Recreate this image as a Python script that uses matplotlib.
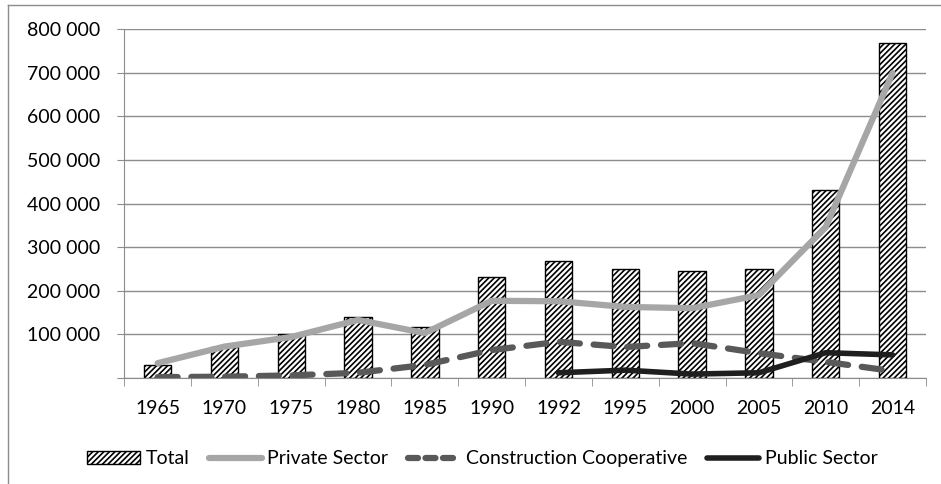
import numpy as np
import matplotlib.pyplot as plt
from matplotlib.ticker import FuncFormatter, FixedLocator
from matplotlib.lines import Line2D
from matplotlib.patches import Patch

years = ["1965", "1970", "1975", "1980", "1985", "1990", "1992", "1995", "2000", "2005", "2010", "2014"]
total = [30000, 71000, 100000, 140000, 117000, 232000, 268000, 250000, 245000, 250000, 431000, 768000]
private = [34000, 72000, 94000, 133000, 103000, 177000, 176000, 163000, 160000, 190000, 346000, 699000]
coop = [2000, 3000, 6000, 12000, 30000, 64000, 83000, 71000, 80000, 57000, 37000, 16000]
public_years = ["1992", "1995", "2000", "2005", "2010", "2014"]
public = [12000, 18000, 9000, 12000, 58000, 53000]

plt.rcParams["font.family"] = ["Lato", "DejaVu Sans"]
plt.rcParams["hatch.linewidth"] = 1.2

fig = plt.figure(figsize=(9.41, 4.84), dpi=100)
ax = fig.add_axes([0.132, 0.219, 0.852, 0.721])

x = np.arange(len(years))
ax.bar(x, total, width=0.41, color="white", edgecolor="black", hatch="//////", linewidth=1, zorder=2)
ax.plot(x, private, color="#a6a6a6", lw=4.5, solid_capstyle="round", zorder=3)
ax.plot(x, coop, color="#595959", lw=4.5, dashes=(3.2, 2.2), dash_capstyle="round", zorder=3)
px = [years.index(y) for y in public_years]
ax.plot(px, public, color="#1f1f1f", lw=4, solid_capstyle="round", zorder=4)

ax.set_xlim(-0.5, len(years) - 0.5)
ax.set_ylim(0, 800000)
ax.set_yticks(np.arange(0, 800001, 100000))
ax.yaxis.set_major_formatter(FuncFormatter(lambda v, p: "" if v == 0 else f"{int(v):,}".replace(",", " ")))
ax.yaxis.grid(True, color="#8c8c8c", lw=1)
ax.set_axisbelow(True)
ax.set_xticks(x)
ax.set_xticklabels(years)
ax.tick_params(axis="x", length=0, pad=16, labelsize=14)
ax.tick_params(axis="y", length=5, color="#8c8c8c", labelsize=14, pad=12)
ax.xaxis.set_minor_locator(FixedLocator(np.arange(-0.5, len(years), 1)))
ax.tick_params(axis="x", which="minor", length=6, color="#8c8c8c")
for s in ["top", "right"]:
    ax.spines[s].set_visible(False)
for s in ["left", "bottom"]:
    ax.spines[s].set_color("#8c8c8c")

handles = [
    Patch(facecolor="white", edgecolor="black", hatch="//////"),
    Line2D([], [], color="#a6a6a6", lw=4.5, solid_capstyle="round"),
    Line2D([], [], color="#595959", lw=4.5, dashes=(1.6, 1.2), dash_capstyle="round"),
    Line2D([], [], color="#1f1f1f", lw=4, solid_capstyle="round"),
]
fig.legend(handles, ["Total", "Private Sector", "Construction Cooperative", "Public Sector"],
           loc="center", bbox_to_anchor=(0.513, 0.052), ncol=4, frameon=False,
           fontsize=14, handlelength=2.7, handletextpad=0.3, columnspacing=1.0)

# outer chart border (cropped on right and bottom in the original)
fig.add_artist(Line2D([0.0085, 0.0085], [0, 0.99], color="#8c8c8c", lw=1))
fig.add_artist(Line2D([0.0085, 1.0], [0.99, 0.99], color="#8c8c8c", lw=1))

fig.savefig("out.png", dpi=100)
